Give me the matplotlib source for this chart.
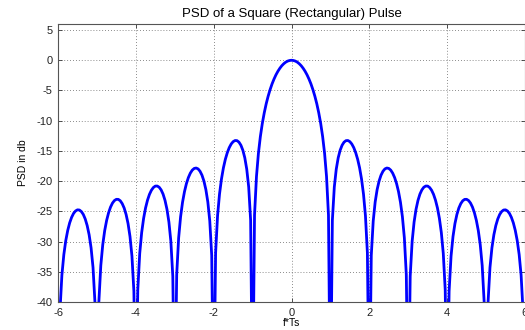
import numpy as np
import matplotlib
matplotlib.use("Agg")
import matplotlib.pyplot as plt

# f*Ts from 0 to 6 in steps of 0.05 (the curve is symmetric about 0)
f_ts_pos = np.linspace(0, 6, 121)

# PSD in dB (nulls go below the -40 floor)
psd_db_pos = [
    0.00, -0.04, -0.14, -0.32, -0.58, -0.91, -1.33, -1.83, -2.42, -3.12,
    -3.92, -4.86, -5.94, -7.20, -8.69, -10.45, -12.62, -15.39, -19.23, -25.61,
    -60.0,
    -26.48, -20.97, -18.02, -16.14, -14.89, -14.06, -13.55, -13.30, -13.28, -13.47,
    -13.86, -14.46, -15.30, -16.39, -17.81, -19.67, -22.15, -25.72, -31.86,
    -60.0,
    -32.29, -26.59, -23.45, -21.41, -20.00, -19.02, -18.37, -17.98, -17.83, -17.90,
    -18.18, -18.68, -19.41, -20.41, -21.74, -23.50, -25.90, -29.39, -35.45,
    -60.0,
    -35.74, -29.97, -26.77, -24.66, -23.19, -22.15, -21.45, -21.01, -20.81, -20.82,
    -21.06, -21.51, -22.19, -23.15, -24.43, -26.16, -28.51, -31.96, -37.99,
    -60.0,
    -38.21, -32.40, -29.16, -27.02, -25.52, -24.45, -23.72, -23.25, -23.02, -23.01,
    -23.21, -23.63, -24.29, -25.23, -26.49, -28.18, -30.52, -33.95, -39.95,
    -60.0,
    -40.12, -34.29, -31.04, -28.88, -27.36, -26.27, -25.51, -25.03, -24.78, -24.75,
    -24.94, -25.34, -25.99, -26.90, -28.15, -29.83, -32.15, -35.56, -41.55,
    -60.0,
]

x_ticks = [-6, -4, -2, 0, 2, 4, 6]
y_ticks = [-40, -35, -30, -25, -20, -15, -10, -5, 0, 5]

psd_pos = np.array(psd_db_pos)
f_ts = np.concatenate([-f_ts_pos[::-1], f_ts_pos[1:]])
psd_db = np.concatenate([psd_pos[::-1], psd_pos[1:]])

plt.rcParams["font.family"] = ["Liberation Sans", "DejaVu Sans"]
plt.rcParams["axes.unicode_minus"] = False

fig = plt.figure(figsize=(5.25, 3.3), dpi=100)
ax = fig.add_axes([58 / 525, 28 / 330, 467 / 525, 278 / 330])

ax.plot(f_ts, psd_db, color="#0000ff", linewidth=2.0)

ax.set_xlim(-6, 6)
ax.set_ylim(-40, 6)
ax.set_xticks(x_ticks)
ax.set_yticks(y_ticks)
ax.grid(True, linestyle=(0, (1, 2.5)), color="#666666", linewidth=0.6)
ax.tick_params(direction="in", top=True, right=True, labelsize=8, length=3,
               width=0.6, pad=4, colors="#333333", labelcolor="#222222")
for spine in ax.spines.values():
    spine.set_color("#555555")
    spine.set_linewidth(0.8)

ax.set_title("PSD of a Square (Rectangular) Pulse", fontsize=9.5, pad=5)
ax.set_xlabel("f*Ts", fontsize=7.5, labelpad=0)
ax.set_ylabel("PSD in db", fontsize=7.5, labelpad=6)

fig.savefig("out.png", dpi=100)
plt.close(fig)
